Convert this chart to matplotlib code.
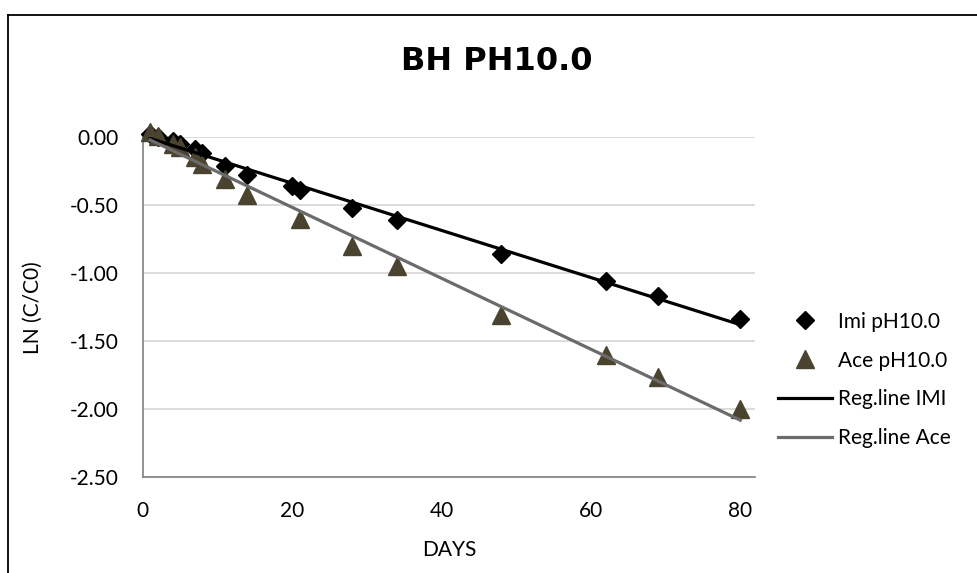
import matplotlib.pyplot as plt
import numpy as np

plt.rcParams["font.family"] = ["Lato", "DejaVu Sans"]

# data
imi_days = [1, 2, 4, 5, 7, 8, 11, 14, 20, 21, 28, 34, 48, 62, 69, 80]
imi_ln = [0.02, 0.00, -0.03, -0.05, -0.085, -0.12, -0.21, -0.28, -0.36, -0.39,
          -0.525, -0.61, -0.86, -1.06, -1.17, -1.335]
ace_days = [1, 2, 4, 5, 7, 8, 11, 14, 21, 28, 34, 48, 62, 69, 80]
ace_ln = [0.04, 0.005, -0.055, -0.075, -0.15, -0.20, -0.31, -0.43, -0.60,
          -0.80, -0.95, -1.31, -1.605, -1.76, -2.00]
y_ticks = [0.0, -0.5, -1.0, -1.5, -2.0, -2.5]
x_ticks = [0, 20, 40, 60, 80]

# regression lines
imi_fit = np.polyfit(imi_days, imi_ln, 1)
ace_fit = np.polyfit(ace_days, ace_ln, 1)
fit_x = np.array([min(imi_days), max(imi_days)])

fig = plt.figure(figsize=(9.77, 5.73), dpi=100)
ax = fig.add_axes([0.146, 0.167, 0.627, 0.594])

ax.plot(imi_days, imi_ln, linestyle="none", marker="D", markersize=9.5,
        color="black", label="Imi pH10.0", clip_on=False, zorder=3)
ax.plot(ace_days, ace_ln, linestyle="none", marker="^", markersize=13,
        color="#4a4330", label="Ace pH10.0", clip_on=False, zorder=4)
ax.plot(fit_x, np.polyval(imi_fit, fit_x), color="black", linewidth=2.3,
        label="Reg.line IMI", zorder=5)
ax.plot(fit_x, np.polyval(ace_fit, fit_x), color="#6b6b6b", linewidth=2.3,
        label="Reg.line Ace", zorder=5)

ax.set_xlim(0, 82)
ax.set_ylim(-2.5, 0)
ax.set_xticks(x_ticks)
ax.set_yticks(y_ticks)
ax.set_yticklabels(["%.2f" % v for v in y_ticks])
ax.tick_params(length=0, labelsize=15, pad=17)
ax.grid(axis="y", color="#d9d9d9", linewidth=1.3)
ax.set_axisbelow(True)
for side in ["top", "right"]:
    ax.spines[side].set_visible(False)
for side in ["left", "bottom"]:
    ax.spines[side].set_color("#808080")
    ax.spines[side].set_linewidth(1.2)

ax.set_xlabel("DAYS", fontsize=15, labelpad=14)
ax.set_ylabel("LN (C/C0)", fontsize=15, labelpad=20)
fig.text(0.508, 0.892, "BH PH10.0", fontsize=23, fontweight="bold",
         family="DejaVu Sans", ha="center", va="center")

ax.legend(loc="center left", bbox_to_anchor=(0.777, 0.337),
          bbox_transform=fig.transFigure, frameon=False, fontsize=15,
          handlelength=2.6, labelspacing=0.9, handletextpad=0.3)

# chart border (cropped at right and bottom)
fig.add_artist(plt.Line2D([8 / 977, 1], [1 - 15 / 573, 1 - 15 / 573],
                          color="black", linewidth=1.3))
fig.add_artist(plt.Line2D([8 / 977, 8 / 977], [0, 1 - 15 / 573],
                          color="black", linewidth=1.3))

plt.savefig("out.png")
